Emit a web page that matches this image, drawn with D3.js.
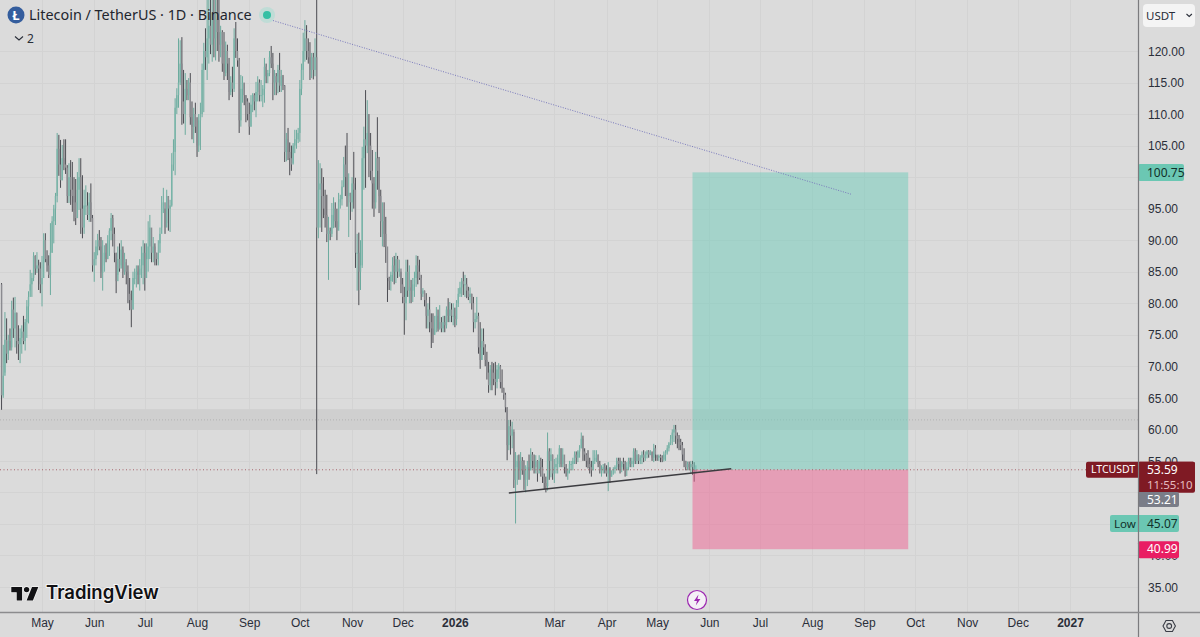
<!DOCTYPE html>
<html>
<head>
<meta charset="utf-8">
<title>Litecoin / TetherUS</title>
<script src="https://cdn.jsdelivr.net/npm/d3@7/dist/d3.min.js"></script>
<style>
  html, body { margin: 0; padding: 0; background: #dbdbdb; overflow: hidden; }
  svg { display: block; font-family: "Noto Sans", "Open Sans", sans-serif; }
</style>
</head>
<body>
<svg id="chart" width="1200" height="637"></svg>
<script>
// Daily LTC/USDT session extremes and closes, first session 7 Apr 2025.
const firstSession = Date.UTC(2025, 3, 7);
const highs = [
  83.2,73.4,78.6,77.6,75,76,80.4,80.9,81,78.5,
  76.5,76,76.5,78,77.5,80.5,81.9,85.3,84.8,88.1,
  87.6,88.1,86.9,86.5,87.5,91.1,91.1,88.4,87.6,92.7,
  93.8,95.6,97.5,107,106.7,105.9,105.1,106,106,101.9,
  102.2,102.7,102.4,100,99.7,100.8,103,103,100.3,98,
  98.7,97.6,97.5,99,94,88.1,90,91,91.6,90.5,
  90,89.2,89.5,90.8,91.9,94.3,94,92,88,89,
  89.5,90,89,88,86.5,86,84,82,85,85.5,
  86,86,87,89,90,89.5,89.5,93,94,91,
  90.5,89.5,88,90,92,97,98.3,95,98,97,
  96.4,103.8,106,112.5,114.1,122,121.7,122.2,117,116.5,
  115.4,115.7,116.5,112,111,111.8,109.5,110,111.8,118,
  121.3,123.6,130,131,129,131,132,129,134,129,
  124,123.3,123,121.5,121,118.9,116,117.5,123.6,124.6,
  122,118.9,116.2,116,114.9,113,112.5,111.8,113,113.3,
  113.3,115.1,116,115.5,115.4,114.6,118.9,118,117,120,
  120.8,119.7,117,116.5,117.8,119.7,117,116.2,114.6,107,
  107.8,105.5,105,105.4,107.5,107.5,107.8,115.4,118,122.9,
  124.9,124.1,122,121.4,119.7,119.7,122,134,102.7,102.2,
  101.4,100,98,97.2,93.7,92,95.9,96.8,96,95,
  97.5,97.2,99.5,103.2,105,107,100.6,97.5,100,104,
  99.9,91,91.2,90,104.8,108,113.8,112.2,110,107,
  104.3,100,104,109.5,103.2,98,96,96,93.7,88.8,
  84.2,85,87.3,87.5,88,87.5,86.9,85,84,82.6,
  86.9,86.9,86,83.7,84,85,87.6,87.5,86.9,84.5,
  82.4,82,81.6,80,81,78.4,78.4,78,79.4,79,
  79.7,77.8,78,78,79.5,80.8,80.2,80,80,79.3,
  80.5,82.4,83.4,84,85,84.5,84,82.6,82.5,81.5,
  81,78.5,81,78.5,77,76,76,73.5,72.3,70.7,
  70.2,70.7,70.5,70.7,70.2,70.5,70.2,69.5,66.6,65.8,
  63.5,61.5,61.5,61.2,59.6,56.4,55.9,56,56.4,55.6,
  55.1,54.3,55,56,57,56.4,56,55.9,55.1,55.9,
  55.5,55.3,53,52.5,59.5,57,57,56,55.3,55.5,
  56,57.5,57,57,55.5,54.5,53.8,55,55,55.5,
  56.5,56.5,56.7,57.5,59.5,59,57,56.2,56.7,55.5,
  55,56.7,56.7,56.7,56,55,54.3,54.5,54.6,54.3,
  54.8,54,53.5,54,54.3,55.5,55.5,55.5,55,55.5,
  55,54.8,55.5,55.5,55.5,57,57,56.7,56,55.9,
  56.5,56.7,56.5,56.7,56.7,56.7,56.5,57.7,57.5,55.9,
  56,56,55.9,56.5,56.7,57.5,58,59.1,60,60.7,
  60.7,59.5,59.1,58.5,58,57,55,54.9,54.9,55,
  55,54.8,54.3
];
const lows = [
  63.1,65,69,70.5,71,72.5,72.5,74.5,73,72,
  71,70.5,72,73.5,72.5,74.5,76.8,82,81,83.5,
  84.5,84.8,82.1,81.6,79.5,86.5,86.5,85,84,81.3,
  88,89.5,92.4,96,100.2,98.3,99.5,101.1,100.5,95.9,
  95.9,95.6,94.5,93,92.4,95.5,94.8,91,90.3,91,
  94,93.2,92.9,92.9,85,83.4,86,87.6,88.4,84,
  82,86,86.5,87,87.5,90,89,86.5,81.6,84.5,
  85,86,84,84.5,83,80,78.9,76.2,79,83,
  82.5,83,82,84,83,82,84,85,87,86.5,
  86.5,86,86,86,89.5,92,94.3,91,92.7,91.5,
  91.3,95.3,101,100.3,110,111,114.6,108.3,108.5,106.7,
  112.2,112.2,108.3,106,105.4,107,103.2,104,104.3,109.5,
  110.3,117,115.4,118,119.5,118.3,119,118.5,120,118.3,
  119,116.7,115.4,116,115.4,112.2,113,112.7,113.5,118.9,
  117.5,107,108,111.8,111.4,108.7,109,106.7,108,110.3,
  110.6,109.5,112,112,112,111.1,111.8,114.9,114.9,116,
  117.3,112.2,113,113,113.3,113.5,113.5,113.8,102.4,102.5,
  102.7,100.3,101,102.2,103.8,104.5,105.4,105.6,113,115.4,
  118.3,118.6,118,115.4,115.7,115.5,116,52.9,90.3,92,
  91.3,93.5,92,89.7,83.7,90,90.5,91.9,92,90,
  92.1,95,95.5,98.4,97,95.3,90.5,93.2,94.5,95,
  85.6,82,79.7,82.1,85.6,98,98.3,103.8,100,99.5,
  95,93.7,95,98,94.3,90.5,89,88.9,86.4,80.2,
  82.1,82,83.4,83,83.2,84,84.2,81.6,80,75,
  77.3,81,80,80,80.2,81,82.6,83,83.7,80.5,
  81,79.5,76,76,75.4,72.9,73.7,75,75.4,75.5,
  75.8,75.4,75.4,75.4,76,77,77,77,76.5,76.2,
  76.5,79.4,81,81,81.3,81,80.8,80.5,80,79,
  75.4,76,77,72,69.6,71,71.8,70,67.9,65.8,
  66.2,66.2,67,65.4,66.5,68,66.5,65.8,64.7,62.7,
  55.1,56.7,56,57,50.7,45.07,51.2,52,52,52.8,
  50.4,50,51,52,53.5,53.8,53,53,51.7,53.5,
  52.5,51.5,50.5,50,50.3,52,52.4,52,51.5,53,
  53,54,54,54,53,52.5,52,53,53.5,53.5,
  54.5,54.5,54.8,55.5,57,55,55,54,53.8,53,
  52.5,53.5,54.5,54.8,54,53,52.5,53,53,52.5,
  50.2,51.5,52.5,52.8,53,53.5,53.5,53,53.2,53.5,
  52.5,52.6,53.5,54,54,54,54.5,54.5,54.5,54.5,
  54.5,54.8,55,55.4,55.5,55.9,55,54.8,55,55,
  55,54.8,54.8,54.9,55,56,56.5,57.5,57.5,58,
  57.7,57,56.7,56.7,55,54,53.5,53.5,53.5,53,
  52.8,51.7,53.3
];
const closes = [
  65.4,68.5,74.2,72,74,73,79,76,78.5,74,
  73.5,74.5,75.5,74,77,79.5,81,83,84,87.5,
  85.5,86,85.5,83,84,90,87,86,84.5,88,
  93,95,97,104.5,102,99.5,103,102,101.5,97,
  100,98,97,96,93.5,98,100,95,92,95.5,
  95.5,94,96,93.5,86,87,89,90,89,85,
  85,88,87,90,91.5,93.5,91,88,83.5,87,
  85.5,88.5,85,87,85,81.5,80.5,79,84,84,
  85,84.5,85.5,86,88,84,87,89,92,88,
  89,88,87,88,91,95.5,96,92,97,95,
  95.5,102,104,111,113,115,118,112,110,114,
  113,115,109.5,108,110,108,105,109,110,117,
  120,119,122,124,121,126,122,125,123,121,
  123,118,116.5,120,118,113.5,115,114,122,120,
  118.5,109,114,115,113,112,110,108,111.5,113,
  112,113.5,115,113,113,114,117.5,116,116.5,119,
  118,115,116,115,117,114.5,116,114.5,104,106,
  104,103,102,105,106,106,107,114,117,120,
  122,120,119,117,119,117,119,92,98,99,
  97,95,94,91,91.5,91,94,95,93,91.5,
  96,96.5,98.5,102,100,97,97.5,96,99,98,
  88,88,85,86,103,106,105,107,105,101,
  99,96,103,101,97,93,93,91,89,84,
  83.5,84.5,86,85,87,85,85.5,83,81,80,
  85,82,82.5,82,83,84,86,85,84,81.5,
  82,80.5,78,79,77,76,75,77,78,76,
  77,76,77,76.5,79,78,79,78,78,77.5,
  80,81.5,82.5,83.5,83,83,82,81,81.5,80,
  77,77.5,78,73,71,74,73,71,69,67,
  69.5,69,68,67.5,69.5,70,67.5,66.5,65.5,63.5,
  57.5,60.5,59,60,52,54,55,53.5,55,53.5,
  52,53,54,53.5,56,55,54,55,53,55,
  54,52.5,51.5,51,56.5,55,56,53,54,54.5,
  55.5,57,54.5,56,54,53,53.5,54.5,54.5,55,
  56,55.5,56.5,57,58.5,56.5,56,55,54.5,54,
  53.5,55,55.5,56,54.5,53.5,53.5,54,53.5,53,
  53.8,52.5,53,53.7,54,55,54.5,54,54.8,54.5,
  53.5,54,55,54.5,55,56.5,55,56,55,55.5,
  56,55.5,56,56.5,56,56.3,55.5,57,56,55.5,
  55.8,55.5,55.2,56,56.3,57,57.8,58.5,59.5,60,
  59,58.5,58,57.5,56,55,54,54.5,54,54.5,
  54,53,53.59
];

const priceTicks = [120,115,110,105,100,95,90,85,80,75,70,65,60,55,50,45,40,35];
// Levels whose axis text sits fully behind a price tag.
const coveredTicks = [100,50,45];
const monthTicks = [
  ["2025-05-01","May"],["2025-06-01","Jun"],["2025-07-01","Jul"],["2025-08-01","Aug"],
  ["2025-09-01","Sep"],["2025-10-01","Oct"],["2025-11-01","Nov"],["2025-12-01","Dec"],
  ["2026-01-01","2026"],["2026-03-01","Mar"],["2026-04-01","Apr"],["2026-05-01","May"],
  ["2026-06-01","Jun"],["2026-07-01","Jul"],["2026-08-01","Aug"],["2026-09-01","Sep"],
  ["2026-10-01","Oct"],["2026-11-01","Nov"],["2026-12-01","Dec"],["2027-01-01","2027"]
];

// Position tool: entry, target, stop and its time span.
const positionEntry = 53.59, positionTarget = 100.75, positionStop = 40.99;
const positionSpan = ["2026-05-22", "2026-09-27"];
// Support zone and its mid line.
const zoneTop = 63.2, zoneBottom = 59.9, zoneMid = 61.5;
// Hand-drawn lines: [date, price] end points.
const supportLine = [["2026-02-02", 49.9], ["2026-06-14", 53.75]];
const fanLine = [["2025-09-08", 125.4], ["2026-08-24", 97.3]];

const lastPrice = 53.59, countdown = "11:55:10", previewPrice = 53.21, sessionLow = 45.07;

const W = 1200, H = 637, plotRight = 1138, plotBottom = 612;
const up = "#78b4a8", upWick = "#6cab9e", down = "#8b8b90", downWick = "#4c4c52";

const x = d3.scaleUtc().domain([new Date("2025-05-01"), new Date("2027-01-01")]).range([42, 1070]);
const y = d3.scaleLinear().domain([120, 35]).range([51, 587]);

const bars = closes.map((c, i) => ({
  date: new Date(firstSession + i * 864e5),
  high: highs[i],
  low: lows[i],
  open: i ? closes[i - 1] : 83,
  close: c
}));

const svg = d3.select("#chart");
svg.append("rect").attr("width", W).attr("height", H).attr("fill", "#dbdbdb");
svg.append("clipPath").attr("id", "plot").append("rect")
  .attr("width", plotRight).attr("height", plotBottom);

const plot = svg.append("g").attr("clip-path", "url(#plot)");

// Grid
const grid = plot.append("g").attr("stroke", "#d3d3d3").attr("stroke-width", 1);
grid.selectAll("line.h").data(priceTicks).join("line").attr("class", "h")
  .attr("x1", 0).attr("x2", plotRight)
  .attr("y1", d => Math.round(y(d)) + 0.5).attr("y2", d => Math.round(y(d)) + 0.5);
grid.selectAll("line.v").data(monthTicks).join("line").attr("class", "v")
  .attr("y1", 0).attr("y2", plotBottom)
  .attr("x1", d => Math.round(x(new Date(d[0]))) + 0.5)
  .attr("x2", d => Math.round(x(new Date(d[0]))) + 0.5);

// Support zone
plot.append("rect")
  .attr("x", 0).attr("width", plotRight)
  .attr("y", y(zoneTop)).attr("height", y(zoneBottom) - y(zoneTop))
  .attr("fill", "#cfcfcf");
plot.append("line")
  .attr("x1", 0).attr("x2", plotRight).attr("y1", y(zoneMid)).attr("y2", y(zoneMid))
  .attr("stroke", "#b2b2b2").attr("stroke-dasharray", "1 2");

// Daily bars
const barG = plot.append("g");
barG.selectAll("line.wick").data(bars).join("line").attr("class", "wick")
  .attr("x1", d => x(d.date)).attr("x2", d => x(d.date))
  .attr("y1", d => y(d.high)).attr("y2", d => y(d.low))
  .attr("stroke", d => d.close >= d.open ? upWick : downWick)
  .attr("stroke-width", 1);
barG.selectAll("rect.body").data(bars).join("rect").attr("class", "body")
  .attr("x", d => x(d.date) - 0.7).attr("width", 1.4)
  .attr("y", d => y(Math.max(d.open, d.close)))
  .attr("height", d => Math.max(1, Math.abs(y(d.open) - y(d.close))))
  .attr("fill", d => d.close >= d.open ? up : down);

// Position tool, translucent over the bars and grid
const px0 = x(new Date(positionSpan[0])), px1 = x(new Date(positionSpan[1]));
plot.append("rect").attr("x", px0).attr("width", px1 - px0)
  .attr("y", y(positionTarget)).attr("height", y(positionEntry) - y(positionTarget))
  .attr("fill", "#6dcbb9").attr("fill-opacity", 0.5);
plot.append("rect").attr("x", px0).attr("width", px1 - px0)
  .attr("y", y(positionEntry)).attr("height", y(positionStop) - y(positionEntry))
  .attr("fill", "#ef6191").attr("fill-opacity", 0.5);

// Last price line
plot.append("line")
  .attr("x1", 0).attr("x2", plotRight).attr("y1", y(lastPrice)).attr("y2", y(lastPrice))
  .attr("stroke", "#a7646c").attr("stroke-dasharray", "1 2.5");

// Drawn lines
const linePath = d3.line().x(d => x(new Date(d[0]))).y(d => y(d[1]));
plot.append("path").attr("d", linePath(fanLine)).attr("fill", "none")
  .attr("stroke", "#7878bc").attr("stroke-width", 1).attr("stroke-dasharray", "1 1.5");
plot.append("path").attr("d", linePath(supportLine)).attr("fill", "none")
  .attr("stroke", "#3c3c40").attr("stroke-width", 1.4);

// Axes
const priceAxis = d3.axisRight(y)
  .tickValues(priceTicks.filter(t => !coveredTicks.includes(t)))
  .tickSize(0).tickPadding(10)
  .tickFormat(d3.format(".2f"));
const yAxisG = svg.append("g").attr("transform", `translate(${plotRight},0)`).call(priceAxis);
yAxisG.select(".domain").remove();
yAxisG.selectAll("text").attr("font-size", 12).attr("fill", "#2a2e39")
  .attr("font-family", "inherit").attr("dy", "0.35em");

const labelByDate = new Map(monthTicks.map(d => [+new Date(d[0]), d[1]]));
const timeAxis = d3.axisBottom(x).tickValues(monthTicks.map(d => new Date(d[0]))).tickSize(0).tickPadding(6)
  .tickFormat(d => labelByDate.get(+d));
const xAxisG = svg.append("g").attr("transform", `translate(0,${plotBottom})`).call(timeAxis);
xAxisG.select(".domain").remove();
xAxisG.selectAll("text").attr("font-size", 12).attr("fill", "#2a2e39")
  .attr("font-family", "inherit")
  .attr("font-weight", d => d.getUTCMonth() === 0 ? 700 : 400);

// Price tags
function tag(x0, x1, yTop, h, fill) {
  svg.append("rect").attr("x", x0).attr("y", yTop).attr("width", x1 - x0).attr("height", h)
    .attr("rx", 2).attr("fill", fill);
}
function label(tx, ty, str, fill, size) {
  svg.append("text").attr("x", tx).attr("y", ty).attr("dy", "0.35em")
    .attr("font-size", size || 12).attr("fill", fill).text(str);
}
const fmt = d3.format(".2f");

tag(plotRight, 1184, y(positionTarget) - 8.5, 17, "#6bc7b3");
label(1147, y(positionTarget), fmt(positionTarget), "#12302a");

tag(1086, 1195, y(lastPrice) - 8, 16, "#7f1a24");
tag(plotRight, 1195, y(lastPrice) - 8, 31, "#7f1a24");
label(1091, y(lastPrice), "LTCUSDT", "#ffffff", 10.5);
label(1147, y(lastPrice), fmt(lastPrice), "#ffffff");
label(1147, y(lastPrice) + 15, countdown, "#e5bcc0", 11.5);

tag(plotRight, 1179, 492, 15, "#7a7d88");
label(1147, 499.5, fmt(previewPrice), "#ffffff");

tag(1110, 1179, y(sessionLow) - 8.5, 17, "#6bc7b3");
label(1114, y(sessionLow), "Low", "#12302a", 11.5);
label(1147, y(sessionLow), fmt(sessionLow), "#12302a");

tag(plotRight, 1179, y(positionStop) - 8, 17, "#e91e63");
label(1147, y(positionStop), fmt(positionStop), "#ffffff");

// Frame
svg.append("line").attr("x1", plotRight + 0.5).attr("x2", plotRight + 0.5).attr("y1", 0).attr("y2", H)
  .attr("stroke", "#7b7b7e").attr("stroke-width", 1.2);
svg.append("line").attr("x1", 0).attr("x2", W).attr("y1", plotBottom + 0.5).attr("y2", plotBottom + 0.5)
  .attr("stroke", "#8c8c8e").attr("stroke-width", 1.4);

// Header
svg.append("circle").attr("cx", 16).attr("cy", 15).attr("r", 8.5).attr("fill", "#345d9d");
svg.append("text").attr("x", 16).attr("y", 19.5).attr("text-anchor", "middle")
  .attr("font-size", 13).attr("font-weight", 700).attr("fill", "#ffffff").text("Ł");
svg.append("text").attr("x", 29).attr("y", 20).attr("font-size", 14.4).attr("fill", "#22252e")
  .text("Litecoin / TetherUS · 1D · Binance");
svg.append("circle").attr("cx", 267).attr("cy", 15).attr("r", 8).attr("fill", "#bfdcd6");
svg.append("circle").attr("cx", 267).attr("cy", 15).attr("r", 4).attr("fill", "#35c0a4");
svg.append("path").attr("d", "M15 36.5l4 3.5 4-3.5").attr("fill", "none").attr("stroke", "#2a2e39").attr("stroke-width", 1.1);
svg.append("text").attr("x", 27).attr("y", 43).attr("font-size", 12).attr("fill", "#2a2e39").text("2");

// Currency selector
svg.append("rect").attr("x", 1143).attr("y", 4).attr("width", 52).attr("height", 23).attr("rx", 4).attr("fill", "#f4f4f4");
svg.append("text").attr("x", 1146).attr("y", 19.5).attr("font-size", 11.5).attr("fill", "#2a2e39").text("USDT");
svg.append("path").attr("d", "M1186.5 14l2.7 2.4 2.7-2.4").attr("fill", "none").attr("stroke", "#2a2e39").attr("stroke-width", 1.1);

// Settings glyph
svg.append("path").attr("d", "M1163 626l3-5.5h6.4l3 5.5-3 5.5H1166z").attr("fill", "none").attr("stroke", "#3a3d46").attr("stroke-width", 1.1);
svg.append("circle").attr("cx", 1169.2).attr("cy", 626).attr("r", 2.4).attr("fill", "none").attr("stroke", "#3a3d46").attr("stroke-width", 1.1);

// Bolt badge on the time axis
svg.append("circle").attr("cx", 697).attr("cy", 600).attr("r", 9.5).attr("fill", "#f4f0f6").attr("stroke", "#9c27b0").attr("stroke-width", 1.2);
svg.append("path").attr("d", "M698.5 594.5l-4.5 6.5h3l-1.2 4.5 4.6-6.4h-3z").attr("fill", "#9c27b0");

// Logo
const logo = svg.append("g").attr("transform", "translate(9.5,581.5) scale(0.9)");
logo.append("path").attr("d", "M14 6H2v6h6v9h6V6Zm12 15h-7l6-15h7l-6 15Zm-7-9a3 3 0 1 0 0-6 3 3 0 0 0 0 6Z")
  .attr("fill", "#111114").attr("stroke", "#f4f4f4").attr("stroke-width", 1.6).attr("paint-order", "stroke");
svg.append("text").attr("x", 46).attr("y", 599).attr("font-size", 18.5).attr("font-weight", 600)
  .attr("font-family", "Inter, 'Noto Sans', sans-serif")
  .attr("fill", "#111114").attr("stroke", "#f4f4f4").attr("stroke-width", 2).attr("paint-order", "stroke")
  .text("TradingView");
</script>
</body>
</html>
